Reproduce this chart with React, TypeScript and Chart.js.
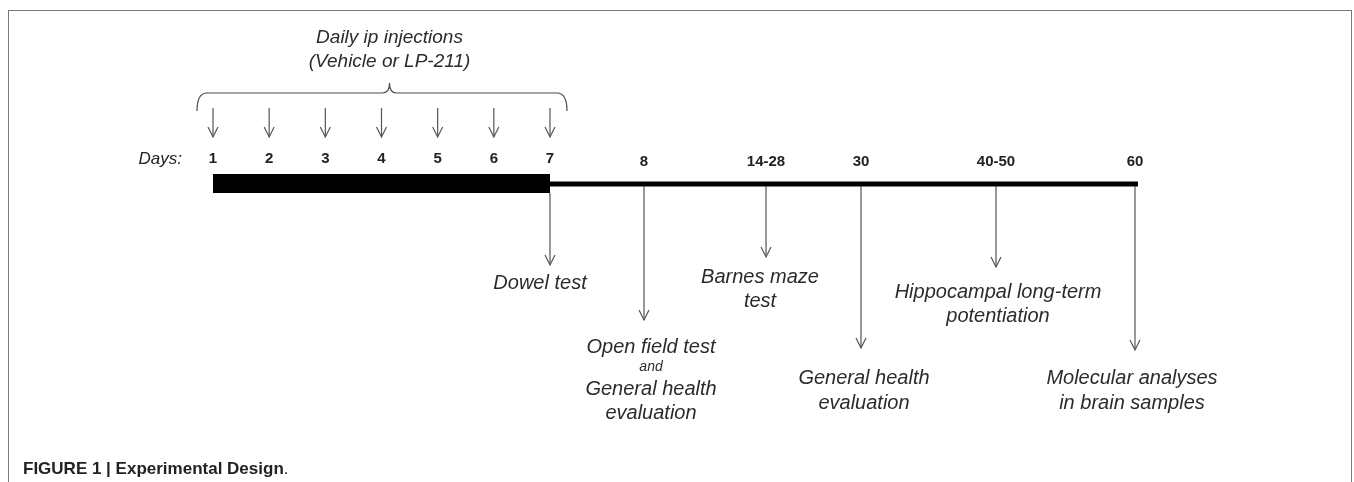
import { useEffect, useRef } from 'react';
import { Chart, registerables } from 'chart.js';
Chart.register(...registerables);

// ---- data ----
const titleLines = ['Daily ip injections', '(Vehicle or LP-211)'];
const injectionDays = ['1', '2', '3', '4', '5', '6', '7'];
const injectionPos = [1, 2, 3, 4, 5, 6, 7];
const laterDays = ['8', '14-28', '30', '40-50', '60'];
const laterPos = [8.674, 10.846, 12.537, 14.941, 17.415];
const timelineEnd = 17.468;
const eventPos = [7, 8.674, 10.846, 12.537, 14.941, 17.415];
const eventLines = [
  ['Dowel test'],
  ['Open field test', 'and', 'General health', 'evaluation'],
  ['Barnes maze', 'test'],
  ['General health', 'evaluation'],
  ['Hippocampal long-term', 'potentiation'],
  ['Molecular analyses', 'in brain samples'],
];
const captionBold = 'FIGURE 1 | Experimental Design';
const captionTail = '.';

// ---- layout (vertical units = px on the y scale) ----
const X_MIN = -2.7923;
const X_MAX = 21.3145;
const W = 1354;
const H = 482;
const BAR_Y = 183.5;
const LINE_Y = 184;
const BAR_BOTTOM = 193;
const INJ_TOP = 108;
const INJ_TIP = 137;
const eventTip = [265, 320, 257, 348, 267, 350];
const eventTextY = [
  [283],
  [347, 367, 389, 413],
  [277, 301],
  [378, 403],
  [292, 316],
  [378, 403],
];
const eventTextDx = [-10, 7, -6, 3, 2, -3];
const FONT = '"Liberation Sans", Arial, Helvetica, sans-serif';

function arrowHead(ctx: CanvasRenderingContext2D, x: number, y: number) {
  ctx.beginPath();
  ctx.moveTo(x - 5, y - 10);
  ctx.lineTo(x, y);
  ctx.lineTo(x + 5, y - 10);
  ctx.stroke();
}

const decorPlugin = {
  id: 'decor',
  afterDatasetsDraw(chart: any) {
    const ctx: CanvasRenderingContext2D = chart.ctx;
    const xs = chart.scales.x;
    const ys = chart.scales.y;
    const px = (v: number) => xs.getPixelForValue(v);
    const py = (v: number) => ys.getPixelForValue(v);
    ctx.save();

    // frame
    ctx.strokeStyle = '#7a7a7a';
    ctx.lineWidth = 1;
    ctx.strokeRect(8.5, 10.5, 1343, 500);

    // title
    ctx.fillStyle = '#2b2b2b';
    ctx.textAlign = 'center';
    ctx.textBaseline = 'middle';
    ctx.font = `italic 19px ${FONT}`;
    const cx = (px(injectionPos[0]) + px(injectionPos[injectionPos.length - 1])) / 2 + 8;
    ctx.fillText(titleLines[0], cx, py(38));
    ctx.fillText(titleLines[1], cx, py(62));

    // brace
    const bl = px(injectionPos[0]) - 16;
    const br = px(injectionPos[injectionPos.length - 1]) + 17;
    const by = py(93);
    ctx.strokeStyle = '#4a4a4a';
    ctx.lineWidth = 1.2;
    ctx.beginPath();
    ctx.moveTo(bl, py(111));
    ctx.quadraticCurveTo(bl, by, bl + 10, by);
    ctx.lineTo(cx - 7, by);
    ctx.quadraticCurveTo(cx, by, cx, py(83));
    ctx.quadraticCurveTo(cx, by, cx + 7, by);
    ctx.lineTo(br - 10, by);
    ctx.quadraticCurveTo(br, by, br, py(111));
    ctx.stroke();

    // injection arrow heads
    ctx.strokeStyle = '#555';
    ctx.lineWidth = 1.2;
    injectionPos.forEach((d) => arrowHead(ctx, px(d), py(INJ_TIP)));

    // day labels
    ctx.fillStyle = '#222';
    ctx.font = `italic 17px ${FONT}`;
    ctx.textAlign = 'right';
    ctx.fillText('Days:', px(injectionPos[0]) - 31, py(159));
    ctx.font = `bold 15px ${FONT}`;
    ctx.textAlign = 'center';
    injectionDays.forEach((t, i) => ctx.fillText(t, px(injectionPos[i]), py(159)));
    laterDays.forEach((t, i) => ctx.fillText(t, px(laterPos[i]), py(162)));

    // event arrows and labels
    ctx.strokeStyle = '#555';
    eventPos.forEach((d, i) => arrowHead(ctx, px(d), py(eventTip[i])));
    ctx.fillStyle = '#2b2b2b';
    eventLines.forEach((lines, i) => {
      lines.forEach((t, j) => {
        ctx.font = t === 'and' ? `italic 14px ${FONT}` : `italic 20px ${FONT}`;
        ctx.fillText(t, px(eventPos[i]) + eventTextDx[i], py(eventTextY[i][j]));
      });
    });

    // caption
    ctx.textAlign = 'left';
    ctx.fillStyle = '#222';
    ctx.font = `bold 17px ${FONT}`;
    ctx.fillText(captionBold, 23, 469);
    const w = ctx.measureText(captionBold).width;
    ctx.font = `17px ${FONT}`;
    ctx.fillText(captionTail, 23 + w, 469);

    ctx.restore();
  },
};

export default function App() {
  const ref = useRef<HTMLCanvasElement>(null);
  useEffect(() => {
    document.body.style.margin = '0';
    const seg = (x0: number, y0: number, x1: number, y1: number, color: string, width: number) => ({
      data: [{ x: x0, y: y0 }, { x: x1, y: y1 }],
      borderColor: color,
      borderWidth: width,
      borderCapStyle: 'butt' as const,
      pointRadius: 0,
      fill: false,
    });
    const datasets: any[] = [];
    // dosing period bar and timeline
    datasets.push(seg(injectionPos[0], BAR_Y, injectionPos[injectionPos.length - 1], BAR_Y, '#000', 19));
    datasets.push(seg(injectionPos[injectionPos.length - 1], LINE_Y, timelineEnd, LINE_Y, '#000', 5));
    // injection shafts
    injectionPos.forEach((d) => datasets.push(seg(d, INJ_TOP, d, INJ_TIP, '#555', 1.2)));
    // event shafts
    eventPos.forEach((d, i) =>
      datasets.push(seg(d, i === 0 ? BAR_BOTTOM : LINE_Y + 2, d, eventTip[i], '#555', 1.2))
    );
    const chart = new Chart(ref.current!, {
      type: 'line',
      data: { datasets },
      options: {
        animation: false,
        responsive: false,
        events: [],
        layout: { padding: 0 },
        plugins: { legend: { display: false }, tooltip: { enabled: false } },
        scales: {
          x: { type: 'linear', min: X_MIN, max: X_MAX, display: false },
          y: { type: 'linear', min: 0, max: H, reverse: true, display: false },
        },
      },
      plugins: [decorPlugin],
    });
    return () => chart.destroy();
  }, []);
  return <canvas ref={ref} width={W} height={H} style={{ display: 'block' }} />;
}
